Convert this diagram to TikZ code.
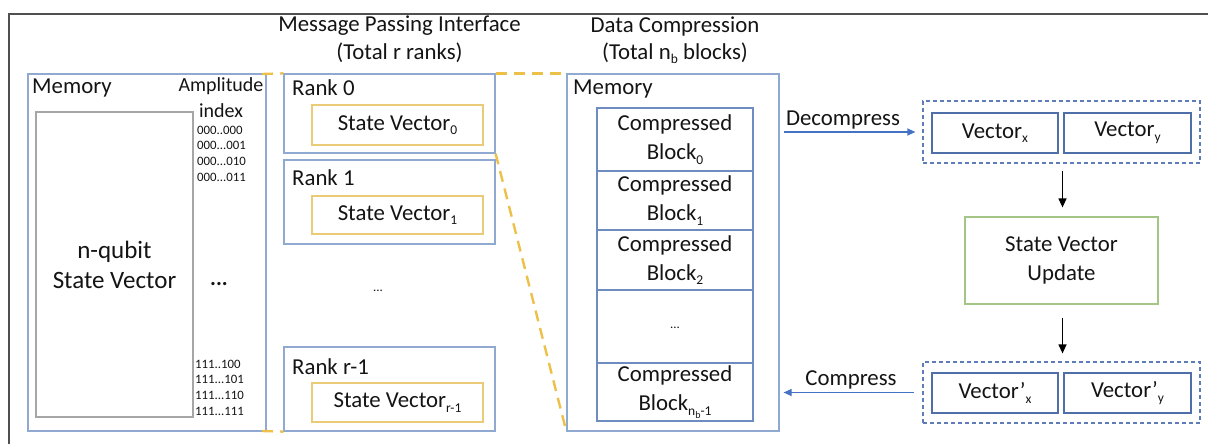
\documentclass[tikz,border=0pt]{standalone}
\usepackage{fontspec}
\setmainfont{Carlito}
\usetikzlibrary{arrows.meta}
\definecolor{lb}{HTML}{8FA9D0}
\definecolor{mb}{HTML}{6E8CC0}
\definecolor{db}{HTML}{4F6FA8}
\definecolor{ddb}{HTML}{5E7DB6}
\definecolor{ab}{HTML}{4472C4}
\definecolor{yl}{HTML}{EDC04A}
\definecolor{yi}{HTML}{EBCB77}
\definecolor{gr}{HTML}{A3C585}
\definecolor{gy}{HTML}{A6A6A6}
\definecolor{fr}{HTML}{505050}
\definecolor{tx}{HTML}{141414}
\newcommand\sbs[1]{\raisebox{-4.5pt}{\fontsize{13.5}{13.5}\selectfont #1}}
\newcommand\ssbs[1]{\raisebox{-3pt}{\fontsize{10}{10}\selectfont #1}}
\begin{document}
\begin{tikzpicture}[x=1pt,y=-1pt,
  every node/.style={font=\fontsize{22.8}{29}\selectfont, inner sep=0pt, text=tx},
  box/.style={draw=#1, line width=1.2pt, align=center},
  dbox/.style={draw=ddb, line width=1.2pt, dash pattern=on 4pt off 3pt},
  ydash/.style={draw=yl, line width=2.4pt, dash pattern=on 11pt off 7pt},
  barrow/.style={draw=ab, line width=1.2pt, -{Triangle[length=8pt,width=7pt]}},
  karrow/.style={draw=black, line width=1.2pt, -{Triangle[length=9pt,width=8pt]}},
  small/.style={font=\fontsize{12.8}{14}\selectfont},
  lbl/.style={anchor=west},
]
\useasboundingbox (0,0) rectangle (1208,444);
\draw[fr, line width=1.5pt] (9,444) -- (9,14) -- (1208,14);

% titles
\node (t1) at (399.5,26) {Message Passing Interface};
\node (t2) at (399.5,53) {(Total r ranks)};
\node (t3) at (675,26) {Data Compression};
\node (t4) at (675,53) {(Total n\sbs{b} blocks)};

% left memory
\node[box=lb, minimum width=238, minimum height=357] (mem) at (147,252.5) {};
\node[box=gy, minimum width=157, minimum height=305, font=\fontsize{25}{30}\selectfont] (svg) at (114.5,264.5) {n-qubit\\State Vector};
\node[lbl] (memlbl) at (32,88) {Memory};
\node[font=\fontsize{20}{24}\selectfont] (amp) at (221,86) {Amplitude};
\node[font=\fontsize{20}{24}\selectfont] (idx) at (221,111) {index};
\node[small,lbl] (i1) at (197,130) {000..000};
\node[small,lbl] (i2) at (197,145.5) {000...001};
\node[small,lbl] (i3) at (197,161) {000...010};
\node[small,lbl] (i4) at (197,177) {000...011};
\node[font=\bfseries\fontsize{22}{24}\selectfont] (ldots) at (219,284) {...};
\node[small,lbl] (i5) at (195,364) {111..100};
\node[small,lbl] (i6) at (195,379.5) {111...101};
\node[small,lbl] (i7) at (195,395) {111...110};
\node[small,lbl] (i8) at (195,411) {111...111};

% ranks
\node[box=lb, minimum width=211, minimum height=79] (r0) at (389.5,113.5) {};
\node[box=yi, minimum width=171, minimum height=40] (s0) at (397.5,125) {State Vector\sbs{0}};
\node[lbl] (r0l) at (292,88) {Rank 0};
\node[box=lb, minimum width=211, minimum height=84] (r1) at (389.5,202) {};
\node[box=yi, minimum width=171, minimum height=38] (s1) at (397.5,215) {State Vector\sbs{1}};
\node[lbl] (r1l) at (292,178) {Rank 1};
\node[small] (rdots) at (378,291) {...};
\node[box=lb, minimum width=211, minimum height=84] (rr) at (389.5,389) {};
\node[box=yi, minimum width=171, minimum height=39] (sr) at (397.5,402.5) {State Vector\sbs{r-1}};
\node[lbl] (rrl) at (292,367) {Rank r-1};

% compressed memory
\node[box=lb, minimum width=212, minimum height=357] (cmem) at (673,252.5) {};
\node[lbl] (cml) at (573,89) {Memory};
\node[box=mb, minimum width=156, minimum height=63] (b0) at (675,139.5) {Compressed\\Block\sbs{0}};
\node[box=mb, minimum width=156, minimum height=59] (b1) at (675,200.5) {Compressed\\Block\sbs{1}};
\node[box=mb, minimum width=156, minimum height=60] (b2) at (675,260) {Compressed\\Block\sbs{2}};
\node[box=mb, minimum width=156, minimum height=73] (b3) at (675,326.5) {};
\node[small] (bdots) at (675,328) {...};
\node[box=mb, minimum width=156, minimum height=58] (b4) at (675,392) {Compressed\\Block\sbs{n\ssbs{b}-1}};

% zoom lines
\draw[ydash] (262,74) -- (r0.north west);
\draw[ydash] (262,431) -- (rr.south west);
\draw[ydash] (r0.north east) -- (cmem.north west);
\draw[ydash] (r0.south east) -- (cmem.south west);

% right side
\node[dbox, minimum width=277, minimum height=62] (topd) at (1061.5,132) {};
\node[box=db, minimum width=126, minimum height=40] (vx) at (995,133) {Vector\sbs{x}};
\node[box=db, minimum width=127, minimum height=40] (vy) at (1127.5,133) {Vector\sbs{y}};
\node[box=gr, minimum width=193, minimum height=87] (upd) at (1061.5,260.5) {State Vector\\Update};
\node[dbox, minimum width=277, minimum height=61] (botd) at (1061.5,392.5) {};
\node[box=db, minimum width=126, minimum height=40] (vxp) at (995,393) {Vector’\sbs{x}};
\node[box=db, minimum width=127, minimum height=40] (vyp) at (1127.5,393) {Vector’\sbs{y}};

\draw[barrow, shorten <=4pt, shorten >=7pt] (cmem.east |- topd.west) -- (topd.west);
\node (dec) at (843,120) {Decompress};
\draw[barrow, shorten <=8pt, shorten >=4pt] (botd.west) -- (cmem.east |- botd.west);
\node (com) at (851,380) {Compress};
\draw[karrow, shorten <=7pt, shorten >=9pt] ([xshift=1pt]topd.south) -- ([xshift=1pt]upd.north);
\draw[karrow, shorten <=13pt, shorten >=8pt] ([xshift=1pt]upd.south) -- ([xshift=1pt]botd.north);
\end{tikzpicture}
\end{document}
